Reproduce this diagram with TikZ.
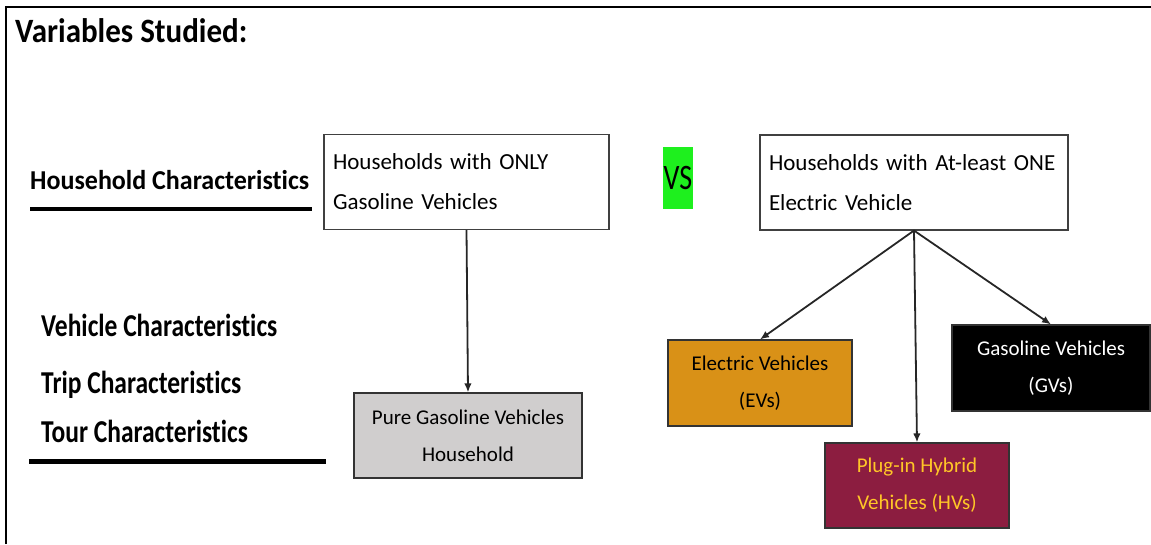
\documentclass[tikz,border=0pt]{standalone}
\usepackage{fontspec}
\setmainfont{Carlito}[Ligatures=NoCommon]
\usetikzlibrary{arrows.meta}
\definecolor{evorange}{HTML}{D99117}
\definecolor{hvmaroon}{HTML}{8C1D40}
\definecolor{hvgold}{HTML}{FFC627}
\definecolor{pvgray}{HTML}{D0CECE}
\definecolor{vsgreen}{HTML}{1EF01E}
\begin{document}
\begin{tikzpicture}[x=1pt, y=-1pt, >={Latex[length=9pt,width=7.5pt]},
		hhbox/.style={draw=black!75, line width=1.1pt, fill=white, inner xsep=9pt, inner ysep=0pt, align=left, font=\fontsize{23}{40}\selectfont, minimum height=95pt},
		subbox/.style={draw=black!80, line width=1.1pt, align=center, inner sep=0pt, font=\fontsize{21}{37}\selectfont, minimum width=184pt, minimum height=86pt},
		varlabel/.style={anchor=base west, inner sep=0pt, font=\fontsize{25.5}{30}\selectfont\bfseries},
		link/.style={->, line width=1.8pt, draw=black!85}]
	\useasboundingbox (0,0) rectangle (1151,544);
	
	% 外框 (只有上边和左边)
	\draw[line width=2.5pt] (6,544) -- (6,7) -- (1151,7);
	
	% 标题与左侧变量
	\node[varlabel, font=\fontsize{31}{36}\selectfont\bfseries] (title) at (15,42) {\scalebox{1}[1.1]{Variables Studied:}};
	\node[varlabel, font=\fontsize{26}{30}\selectfont\bfseries] (hhvar) at (30,189) {\scalebox{1}[1.05]{Household Characteristics}};
	\node[varlabel] (vehvar) at (41,336) {\scalebox{1}[1.25]{Vehicle Characteristics}};
	\node[varlabel] (tripvar) at (41,393) {\scalebox{1}[1.25]{Trip Characteristics}};
	\node[varlabel] (tourvar) at (41,442) {\scalebox{1}[1.25]{Tour Characteristics}};
	\draw[line width=4.5pt] (30,209) -- (312,209);
	\draw[line width=4.5pt] (29,461.5) -- (326,461.5);
	
	% 两类家庭
	\node[hhbox, text width=267pt] (hhA) at (466.5,182) {Households with ONLY\\Gasoline Vehicles};
	\node[hhbox, text width=290pt] (hhB) at (914,182.5) {Households with At-least ONE\\Electric Vehicle};
	\node[fill=vsgreen, inner sep=0pt, minimum width=30pt, minimum height=62pt, font=\fontsize{28}{30}\selectfont] (vs) at (678,178) {\raisebox{-5pt}{\scalebox{1}[1.28]{VS}}};
	
	% 车辆类型
	\node[subbox, fill=pvgray, minimum width=228pt, minimum height=85pt] (pure) at (468,435.5) {Pure Gasoline Vehicles\\Household};
	\node[subbox, fill=evorange] (ev) at (760,383) {Electric Vehicles\\(EVs)};
	\node[subbox, fill=black, text=white, minimum width=198pt] (gv) at (1051,368) {Gasoline Vehicles\\(GVs)};
	\node[subbox, fill=hvmaroon, text=hvgold, minimum height=85pt] (hv) at (917,485.5) {Plug-in Hybrid\\Vehicles (HVs)};
	
	% 箭头
	\draw[link] (hhA.south) -- (pure.north);
	\draw[link] (hhB.south) -- (ev.north);
	\draw[link] (hhB.south) -- (hv.north);
	\draw[link] (hhB.south) -- (gv.north);
\end{tikzpicture}
\end{document}
